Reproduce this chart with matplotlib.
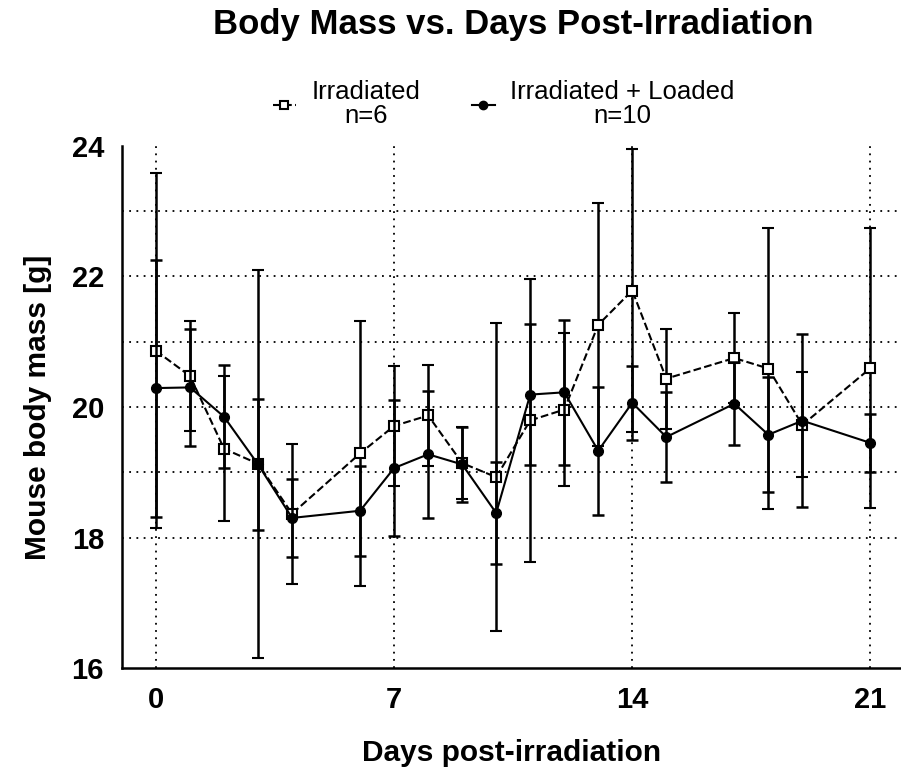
import matplotlib
matplotlib.use("Agg")
import matplotlib.pyplot as plt
from matplotlib.lines import Line2D

# days post-irradiation and group means / error (g)
days = [0, 1, 2, 3, 4, 6, 7, 8, 9, 10, 11, 12, 13, 14, 15, 17, 18, 19, 21]
irr_mean = [20.86, 20.475, 19.36, 19.13, 18.365, 19.29, 19.71, 19.87, 19.14, 18.925,
            19.795, 19.96, 21.26, 21.785, 20.435, 20.75, 20.59, 19.725, 20.595]
irr_err = [2.72, 0.84, 1.11, 2.97, 1.075, 2.03, 0.92, 0.77, 0.55, 2.355,
           2.165, 1.17, 1.86, 2.165, 0.765, 0.69, 2.16, 0.805, 2.145]
load_mean = [20.29, 20.30, 19.85, 19.12, 18.30, 18.41, 19.065, 19.275, 19.12, 18.375,
             20.19, 20.225, 19.33, 20.065, 19.54, 20.05, 19.575, 19.79, 19.45]
load_err = [1.97, 0.9, 0.79, 1.0, 0.6, 0.69, 1.045, 0.975, 0.57, 0.775,
            1.08, 1.115, 0.98, 0.565, 0.69, 0.64, 0.885, 1.33, 0.45]

labels = ["Irradiated\nn=6", "Irradiated + Loaded\nn=10"]
x_ticks = [0, 7, 14, 21]
y_ticks = [16, 18, 20, 22, 24]

plt.rcParams['font.family'] = ['Liberation Sans', 'DejaVu Sans']

fig = plt.figure(figsize=(9.01, 7.68), dpi=100)
ax = fig.add_axes([0.1354, 0.1302, 0.8646, 0.6797])

# dotted grid
for y in [18, 19, 20, 21, 22, 23]:
    ax.axhline(y, color='black', linestyle=(0, (1, 3)), lw=1.3, zorder=0)
for x in x_ticks:
    ax.axvline(x, color='black', linestyle=(0, (1, 3)), lw=1.3, zorder=0)

ax.errorbar(days, irr_mean, yerr=irr_err, color='black', ls='--', lw=1.5,
            marker='s', ms=7, mfc='white', mec='black', mew=1.5,
            elinewidth=1.8, capsize=4, capthick=1.8, zorder=2)
ax.errorbar(days, load_mean, yerr=load_err, color='black', ls='-', lw=1.5,
            marker='o', ms=7, mfc='black', mec='black',
            elinewidth=1.8, capsize=4, capthick=1.8, zorder=3)

ax.set_xlim(-1, 21.9)
ax.set_ylim(16, 24)
ax.set_xticks(x_ticks)
ax.set_yticks(y_ticks)
ax.tick_params(length=0, labelsize=21, pad=13)
for t in ax.get_xticklabels() + ax.get_yticklabels():
    t.set_fontweight('bold')
ax.spines['top'].set_visible(False)
ax.spines['right'].set_visible(False)
ax.spines['left'].set_linewidth(1.8)
ax.spines['bottom'].set_linewidth(1.8)

ax.set_xlabel("Days post-irradiation", fontsize=21.5, fontweight='bold', labelpad=18)
ax.set_ylabel("Mouse body mass [g]", fontsize=21.5, fontweight='bold', labelpad=14)

fig.text(0.57, 0.968, "Body Mass vs. Days Post-Irradiation", ha='center', va='center',
         fontsize=25, fontweight='bold')

handles = [
    Line2D([], [], color='black', ls='--', lw=1.5, marker='s', ms=6,
           mfc='white', mec='black', mew=1.5),
    Line2D([], [], color='black', ls='-', lw=1.5, marker='o', ms=6,
           mfc='black', mec='black'),
]
leg = ax.legend(handles, labels, loc='lower center', bbox_to_anchor=(0.49, 1.0), ncol=2,
                frameon=False, fontsize=18.5, handlelength=0.9, columnspacing=2.0,
                handletextpad=0.6, borderaxespad=0.3)
for t in leg.get_texts():
    t.set_multialignment('center')
    t.set_linespacing(1.0)

fig.savefig("out.png", dpi=100)
